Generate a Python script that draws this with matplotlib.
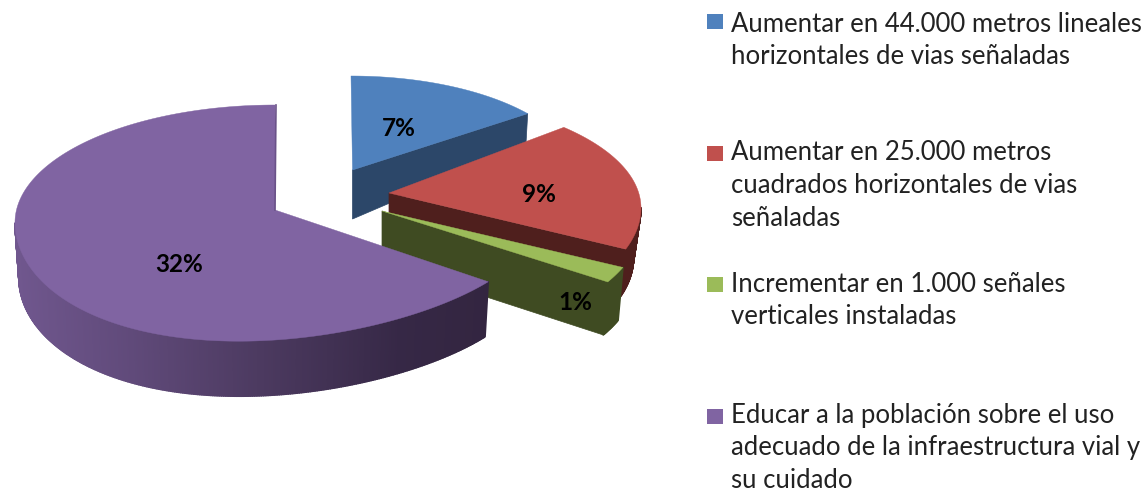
import numpy as np
import matplotlib
matplotlib.use("Agg")
import matplotlib.pyplot as plt
from matplotlib.collections import PolyCollection
from matplotlib.patches import Rectangle

# Data
categories = [
    "Aumentar en 44.000 metros lineales\nhorizontales de vias señaladas",
    "Aumentar en 25.000 metros\ncuadrados horizontales de vias\nseñaladas",
    "Incrementar en 1.000 señales\nverticales instaladas",
    "Educar a la población sobre el uso\nadecuado de la infraestructura vial y\nsu cuidado",
]
values = [7, 9, 1, 32]
value_labels = ["7%", "9%", "1%", "32%"]

# Style
top_colors = ["#4f81bd", "#c0504d", "#9bbb59", "#8064a2"]
side_colors = ["#2c4769", "#4f1f1d", "#3f4b22", "#4a3860"]
FONT = "Lato"

# Geometry of each exploded slice, in pixels
geom = [
    dict(apex=(352.5, 170), c=(351, 176), rx=226, up=100, dn=100, rot=0, da=49, dr=31, bs=0.99, skew=0),
    dict(apex=(389, 193), c=(389, 208), rx=252, up=112, dn=120, rot=7.5, da=50, dr=50, bs=0.97, skew=0),
    dict(apex=(382, 211), c=(382, 217.5), rx=262, up=127, dn=127, rot=4.4, da=52, dr=53, bs=0.98, skew=0),
    dict(apex=(275, 210), c=(275, 222.5), rx=260, up=117.5, dn=117.5, rot=0, da=55, dr=55, bs=0.985, skew=17),
]
label_pos = [(399, 128), (539, 194), (575, 303), (179, 265)]
legend_first_line = [24, 153, 284, 415]
line_step = 32.7
swatch_y = [14, 146, 277, 409]


def rim(g, deg, lower=False):
    t = np.radians(deg)
    s, c = np.sin(t), np.cos(t)
    ry = np.where(s > 0, g["up"], g["dn"])
    y = g["c"][1] - ry * s + np.where(s < 0, g["skew"] * np.sin(2 * t) / 2, 0)
    if lower:
        return g["c"][0] + g["rx"] * g["bs"] * c, y + g["dr"]
    return g["c"][0] + g["rx"] * c, y


def side_colour(i, x):
    if i != 3:
        return side_colors[i]
    xp = [15, 130, 260, 400, 490]
    r = np.interp(x, xp, [0x70, 0x60, 0x4c, 0x36, 0x33]) / 255
    g = np.interp(x, xp, [0x57, 0x4a, 0x3a, 0x28, 0x25]) / 255
    b = np.interp(x, xp, [0x8e, 0x7a, 0x60, 0x46, 0x40]) / 255
    return (r, g, b)


fig = plt.figure(figsize=(11.48, 4.92), dpi=100, facecolor="white")
ax = fig.add_axes([0, 0, 1, 1])
ax.set_xlim(0, 1148)
ax.set_ylim(492, 0)
ax.axis("off")

total = sum(values)
start = 90.0
for i, v in enumerate(values):
    g = geom[i]
    sweep = v / total * 360
    a0, a1 = start + g["rot"], start - sweep + g["rot"]
    start -= sweep
    ts = np.linspace(a0, a1, max(int(abs(sweep) * 2), 12))
    ax_, ay_ = g["apex"]

    # end face running from the clockwise tip back to the apex
    ex, ey = rim(g, a1)
    bx, by = rim(g, a1, lower=True)
    if i != 3:
        ax.fill([ax_, ex, bx, ax_], [ay_, ey, by, ay_ + g["da"]],
                color=side_colors[i], lw=0.5, zorder=i * 3 + 1)

    # outer wall where it faces the viewer
    polys, cols = [], []
    for p, q in zip(ts[:-1], ts[1:]):
        if np.sin(np.radians((p + q) / 2)) < 0:
            x1, y1 = rim(g, p)
            x2, y2 = rim(g, q)
            x3, y3 = rim(g, q, lower=True)
            x4, y4 = rim(g, p, lower=True)
            polys.append([(x1, y1), (x2, y2), (x3, y3), (x4, y4)])
            cols.append(side_colour(i, (x1 + x2) / 2))
    if polys:
        ax.add_collection(PolyCollection(polys, facecolors=cols, edgecolors=cols,
                                         linewidths=1.2, zorder=i * 3 + 2))

    # top face
    xs, ys = rim(g, ts)
    ax.fill(np.r_[ax_, xs], np.r_[ay_, ys], color=top_colors[i], lw=0.3, zorder=i * 3 + 3)
    ax.text(*label_pos[i], value_labels[i], family=FONT, weight="bold", fontsize=17.5,
            color="black", ha="center", va="center", zorder=20)

# inner sliver at the start edge of the large slice
x0, y0 = rim(geom[3], 90 - sum(values[:3]) / total * 360 - values[3] / total * 360)
ax.plot([x0 + 1, geom[3]["apex"][0]], [y0, geom[3]["apex"][1]], color="#6a5288", lw=1.2, zorder=13)

# Legend
for col, cat, ty, sy in zip(top_colors, categories, legend_first_line, swatch_y):
    ax.add_patch(Rectangle((707, sy), 16, 15, facecolor=col, edgecolor="none"))
    for k, line in enumerate(cat.split("\n")):
        ax.text(731, ty + k * line_step, line, family=FONT, fontsize=18.5, color="#222222",
                ha="left", va="center")

fig.savefig("out.png", dpi=100, facecolor="white")
